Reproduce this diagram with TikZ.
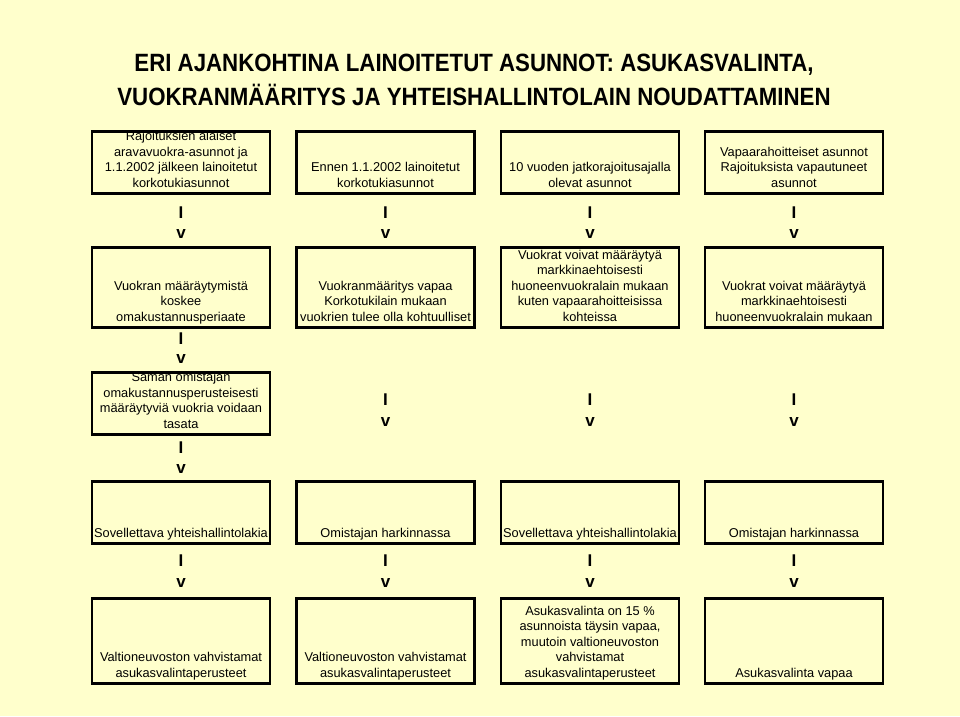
\documentclass[tikz,border=0pt]{standalone}
\usepackage{fontspec}
\setmainfont{Liberation Sans}
\newfontfamily\titlefont[FakeStretch=0.89]{Liberation Sans}
\definecolor{bgc}{RGB}{255,255,204}
\begin{document}
\begin{tikzpicture}[x=1pt,y=-1pt,
  box/.style={draw=black, line width=2.5pt, minimum width=178pt, inner sep=0pt, anchor=north},
  txt/.style={anchor=south, inner sep=0pt, align=center, text depth=3.5pt,
    font=\fontsize{12.8}{15.5}\selectfont, yshift=3.5pt},
  mk/.style={inner sep=0pt, font=\fontsize{17}{17}\selectfont\bfseries},
  ttl/.style={anchor=base, inner sep=0pt, font=\titlefont\fontsize{25}{30}\selectfont\bfseries}]
\useasboundingbox (0,0) rectangle (960,716);
\fill[bgc] (0,0) rectangle (960,716);
% title
\node[ttl] (title1) at (474,71) {ERI AJANKOHTINA LAINOITETUT ASUNNOT: ASUKASVALINTA,};
\node[ttl] (title2) at (474,105) {VUOKRANMÄÄRITYS JA YHTEISHALLINTOLAIN NOUDATTAMINEN};
% row 1
\node[box, minimum height=62pt] (b11) at (181,130) {};
\node[box, minimum height=62pt] (b12) at (385.5,130) {};
\node[box, minimum height=62pt] (b13) at (590,130) {};
\node[box, minimum height=62pt] (b14) at (794,130) {};
\node[txt] (t11) at (b11.south) {Rajoituksien alaiset\\aravavuokra-asunnot ja\\1.1.2002 jälkeen lainoitetut\\korkotukiasunnot};
\node[txt] (t12) at (b12.south) {Ennen 1.1.2002 lainoitetut\\korkotukiasunnot};
\node[txt] (t13) at (b13.south) {10 vuoden jatkorajoitusajalla\\olevat asunnot};
\node[txt] (t14) at (b14.south) {Vapaarahoitteiset asunnot\\Rajoituksista vapautuneet\\asunnot};
% row 2
\node[box, minimum height=80pt] (b21) at (181,246) {};
\node[box, minimum height=80pt] (b22) at (385.5,246) {};
\node[box, minimum height=80pt] (b23) at (590,246) {};
\node[box, minimum height=80pt] (b24) at (794,246) {};
\node[txt] (t21) at (b21.south) {Vuokran määräytymistä\\koskee\\omakustannusperiaate};
\node[txt] (t22) at (b22.south) {Vuokranmääritys vapaa\\Korkotukilain mukaan\\vuokrien tulee olla kohtuulliset};
\node[txt] (t23) at (b23.south) {Vuokrat voivat määräytyä\\markkinaehtoisesti\\huoneenvuokralain mukaan\\kuten vapaarahoitteisissa\\kohteissa};
\node[txt] (t24) at (b24.south) {Vuokrat voivat määräytyä\\markkinaehtoisesti\\huoneenvuokralain mukaan};
% row 3
\node[box, minimum height=62pt] (b31) at (181,371) {};
\node[txt] (t31) at (b31.south) {Saman omistajan\\omakustannusperusteisesti\\määräytyviä vuokria voidaan\\tasata};
% row 4
\node[box, minimum height=62pt] (b41) at (181,480) {};
\node[box, minimum height=62pt] (b42) at (385.5,480) {};
\node[box, minimum height=62pt] (b43) at (590,480) {};
\node[box, minimum height=62pt] (b44) at (794,480) {};
\node[txt] (t41) at (b41.south) {Sovellettava yhteishallintolakia};
\node[txt] (t42) at (b42.south) {Omistajan harkinnassa};
\node[txt] (t43) at (b43.south) {Sovellettava yhteishallintolakia};
\node[txt] (t44) at (b44.south) {Omistajan harkinnassa};
% row 5
\node[box, minimum height=85pt] (b51) at (181,597) {};
\node[box, minimum height=85pt] (b52) at (385.5,597) {};
\node[box, minimum height=85pt] (b53) at (590,597) {};
\node[box, minimum height=85pt] (b54) at (794,597) {};
\node[txt] (t51) at (b51.south) {Valtioneuvoston vahvistamat\\asukasvalintaperusteet};
\node[txt] (t52) at (b52.south) {Valtioneuvoston vahvistamat\\asukasvalintaperusteet};
\node[txt] (t53) at (b53.south) {Asukasvalinta on 15 \%\\asunnoista täysin vapaa,\\muutoin valtioneuvoston\\vahvistamat\\asukasvalintaperusteet};
\node[txt] (t54) at (b54.south) {Asukasvalinta vapaa};
% markers row1 -> row2
\foreach \c/\x in {1/181,2/385.5,3/590,4/794}{
  \node[mk] (ia\c) at (\x,213) {I};
  \node[mk] (va\c) at (\x,234) {v};
}
% col 1 row2 -> row3 -> row4
\node[mk] (ib1) at (181,339) {I};
\node[mk] (vb1) at (181,359) {v};
\node[mk] (ic1) at (181,448) {I};
\node[mk] (vc1) at (181,469) {v};
% cols 2-4 row2 -> row4
\foreach \c/\x in {2/385.5,3/590,4/794}{
  \node[mk] (ic\c) at (\x,400) {I};
  \node[mk] (vc\c) at (\x,422) {v};
}
% row4 -> row5
\foreach \c/\x in {1/181,2/385.5,3/590,4/794}{
  \node[mk] (id\c) at (\x,561) {I};
  \node[mk] (vd\c) at (\x,583) {v};
}
\end{tikzpicture}
\end{document}
